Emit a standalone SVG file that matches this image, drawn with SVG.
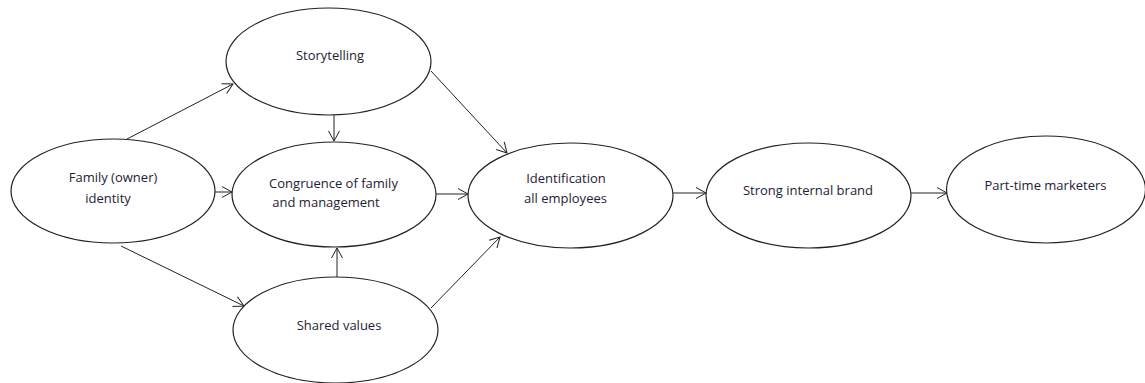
<svg xmlns="http://www.w3.org/2000/svg" width="1145" height="383" viewBox="0 0 1145 383">
<style>
  .node ellipse { fill: #ffffff; stroke: #222222; stroke-width: 1.2; }
  .node text { font-family: "Open Sans", "Liberation Sans", sans-serif; font-size: 13px; fill: #1e2235; text-anchor: middle; }
  #connectors line { stroke: #222222; stroke-width: 1; marker-end: url(#arrow); }
</style>
<defs>
  <marker id="arrow" markerUnits="userSpaceOnUse" markerWidth="14" markerHeight="14" viewBox="-12 -7 14 14" refX="0" refY="0" orient="auto">
    <path d="M -10 -5.5 L 0 0 L -10 5.5" fill="none" stroke="#222222" stroke-width="1"/>
  </marker>
</defs>
<rect width="1145" height="383" fill="#ffffff"/>
<g id="connectors">
  <line x1="127" y1="139" x2="233" y2="84"/>
  <line x1="215" y1="192" x2="232" y2="192"/>
  <line x1="121" y1="246" x2="244" y2="306"/>
  <line x1="334" y1="115" x2="334" y2="141"/>
  <line x1="337" y1="277" x2="337" y2="248"/>
  <line x1="436" y1="194" x2="468" y2="194"/>
  <line x1="431" y1="71" x2="507" y2="153"/>
  <line x1="431" y1="308" x2="500" y2="237"/>
  <line x1="673" y1="193" x2="706" y2="193"/>
  <line x1="911" y1="193" x2="947" y2="193"/>
</g>
<g id="family" class="node">
  <ellipse cx="113" cy="191" rx="102" ry="52"/>
  <text x="113" y="182">Family (owner)</text>
  <text x="108" y="203">identity</text>
</g>
<g id="storytelling" class="node">
  <ellipse cx="328.5" cy="61.5" rx="102.5" ry="53.5"/>
  <text x="330" y="60">Storytelling</text>
</g>
<g id="congruence" class="node">
  <ellipse cx="334" cy="194.5" rx="102" ry="52.5"/>
  <text x="333.5" y="188">Congruence of family</text>
  <text x="326" y="207">and management</text>
</g>
<g id="shared" class="node">
  <ellipse cx="335.5" cy="330" rx="102.5" ry="53"/>
  <text x="339" y="330">Shared values</text>
</g>
<g id="identification" class="node">
  <ellipse cx="570.5" cy="195.5" rx="102.5" ry="52.5"/>
  <text x="566" y="183">Identification</text>
  <text x="565.5" y="203">all employees</text>
</g>
<g id="strong" class="node">
  <ellipse cx="808.5" cy="195.5" rx="102.5" ry="52.5"/>
  <text x="808" y="195">Strong internal brand</text>
</g>
<g id="parttime" class="node">
  <ellipse cx="1046" cy="189.5" rx="99.5" ry="53.5"/>
  <text x="1045.5" y="190">Part-time marketers</text>
</g>
</svg>
